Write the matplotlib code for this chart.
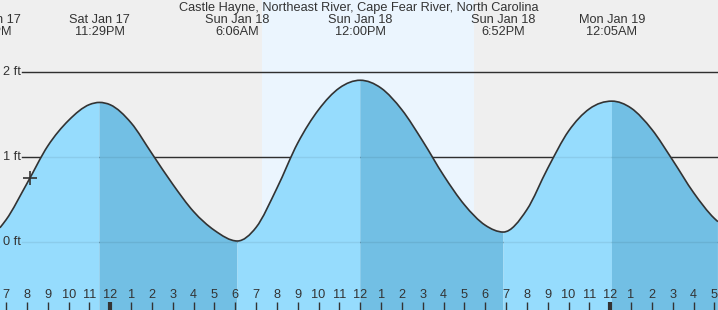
import numpy as np
import matplotlib.pyplot as plt
from matplotlib.path import Path
from matplotlib.patches import PathPatch
from matplotlib.transforms import blended_transform_factory

plt.rcParams['font.family'] = ['Liberation Sans', 'DejaVu Sans']

# hours from midnight Sun Jan 18, water level in ft
times = [-5.3, -5, -4, -3, -2, -1, -0.517, 0, 1, 2, 3, 4, 5, 6.1,
         7, 8, 9, 10, 11, 12, 13, 14, 15, 16, 17, 18, 18.867, 20,
         21, 22, 23, 24.083, 25, 26, 27, 28, 29, 29.17]
heights = [0.17, 0.265, 0.69, 1.13, 1.43, 1.615, 1.64, 1.612, 1.40, 1.04, 0.68,
           0.36, 0.14, 0.015, 0.175, 0.635, 1.165, 1.555, 1.81, 1.90, 1.808,
           1.553, 1.186, 0.785, 0.44, 0.20, 0.12, 0.383, 0.868, 1.304, 1.565,
           1.655, 1.574, 1.323, 0.962, 0.583, 0.28, 0.242]

# high / low tides
ext_times = [-5.76, -0.517, 6.1, 12.0, 18.867, 24.083]
ext_heights = [0.11, 1.64, 0.015, 1.90, 0.12, 1.655]
ext_days = ['Sat Jan 17', 'Sat Jan 17', 'Sun Jan 18', 'Sun Jan 18', 'Sun Jan 18', 'Mon Jan 19']
ext_clock = ['6:14PM', '11:29PM', '6:06AM', '12:00PM', '6:52PM', '12:05AM']

sunrise, sunset = 7.28, 17.46
now_time, now_height = -3.855, 0.75
hour_ticks = list(range(-5, 30))
ft_levels = [0, 1, 2]
title = 'Castle Hayne, Northeast River, Cape Fear River, North Carolina'

t = np.array(times)
h = np.array(heights)
x0, x1 = -5.295, 29.174
y0, y1 = -0.794, 2.841

# slopes for drawing a smooth (Bezier) line through the readings; flat at highs/lows
m = np.gradient(h, t)
for i, ti in enumerate(t):
    if np.any(np.isclose(ti, ext_times)):
        m[i] = 0.0


def curve_verts(i0, i1):
    verts = [(t[i0], h[i0])]
    for i in range(i0, i1):
        dt = t[i + 1] - t[i]
        verts += [(t[i] + dt / 3, h[i] + m[i] * dt / 3),
                  (t[i + 1] - dt / 3, h[i + 1] - m[i + 1] * dt / 3),
                  (t[i + 1], h[i + 1])]
    return verts


fig = plt.figure(figsize=(7.18, 3.10), dpi=100)
ax = fig.add_axes([0, 0, 1, 1])
ax.set_xlim(x0, x1)
ax.set_ylim(y0, y1)
ax.axis('off')
ax.add_patch(plt.Rectangle((x0, y0), x1 - x0, y1 - y0, color='#efefef', zorder=0))
ax.axvspan(sunrise, sunset, color='#ebf5fe', zorder=0.5, lw=0)

for lv in ft_levels:
    ax.axhline(lv, xmin=22 / 718, color='#333333', lw=1, zorder=1)

# fill under the curve, lighter while rising, darker while falling
cuts = [0] + [i for i, ti in enumerate(t) if np.any(np.isclose(ti, ext_times))
              and 0 < i < len(t) - 1] + [len(t) - 1]
for a, b in zip(cuts[:-1], cuts[1:]):
    cv = curve_verts(a, b)
    verts = [(t[a], y0)] + cv + [(t[b], y0), (t[a], y0)]
    codes = [Path.MOVETO, Path.LINETO] + [Path.CURVE4] * (len(cv) - 1) + \
            [Path.LINETO, Path.CLOSEPOLY]
    rising = h[b] > h[a]
    ax.add_patch(PathPatch(Path(verts, codes), facecolor='#96dcfd' if rising else '#72bfe4',
                           lw=0, zorder=2))

for lv in ft_levels:
    ax.axhline(lv, xmin=22 / 718, color='black', alpha=0.07, lw=1, zorder=3)

cv = curve_verts(0, len(t) - 1)
line = Path(cv, [Path.MOVETO] + [Path.CURVE4] * (len(cv) - 1))
ax.add_patch(PathPatch(line, facecolor='none', edgecolor='#333333', lw=1.2, zorder=4))
ax.plot([now_time], [now_height], marker='+', ms=10, mew=1.2, color='#333333', zorder=5)

ya = blended_transform_factory(ax.transAxes, ax.transData)
for lv in ft_levels:
    ax.text(3 / 718, lv, f'{lv} ft', transform=ya, ha='left', va='center',
            fontsize=9.2, color='#333333', zorder=6)

xa = blended_transform_factory(ax.transData, ax.transAxes)
for hr in hour_ticks:
    lab = hr % 12 or 12
    ax.text(hr, 1 - 295.3 / 310, str(lab), transform=xa, ha='center', va='center',
            fontsize=9.2, color='#333333', zorder=6)
    ax.plot([hr, hr], [0, 8 / 310], transform=xa, color='#333333',
            lw=3 if hr % 24 == 0 else 1, zorder=6, solid_capstyle='butt')

ax.text(0.5, 1 - 7.5 / 310, title, transform=ax.transAxes, ha='center', va='center',
        fontsize=9.2, color='#333333', zorder=6)
for et, d, c in zip(ext_times, ext_days, ext_clock):
    ax.text(et, 1 - 20 / 310, d, transform=xa, ha='center', va='center',
            fontsize=9.2, color='#333333', zorder=6)
    ax.text(et, 1 - 31.7 / 310, c, transform=xa, ha='center', va='center',
            fontsize=9.2, color='#333333', zorder=6)

fig.savefig('out.png', dpi=100)
